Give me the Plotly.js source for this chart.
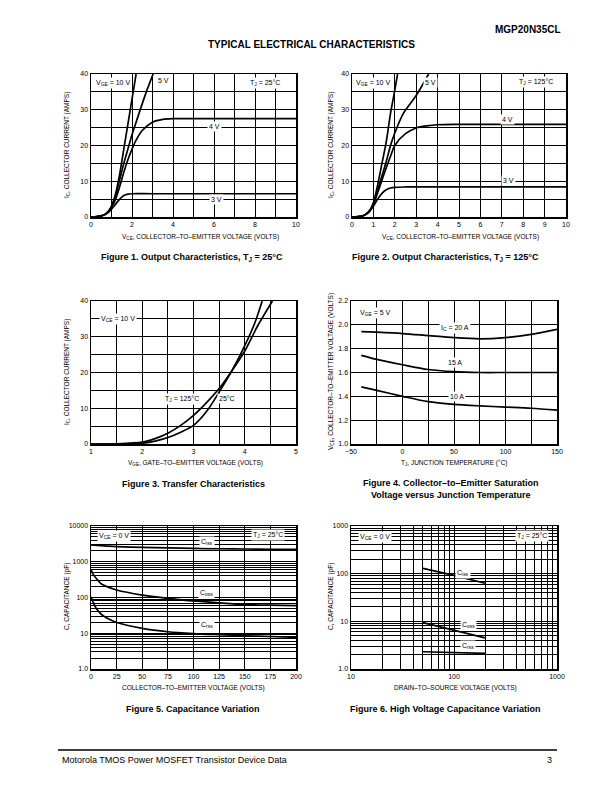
<!DOCTYPE html>
<html>
<head>
<meta charset="utf-8">
<script src="https://cdn.plot.ly/plotly-3.0.1.min.js"></script>
<style>html,body{margin:0;padding:0;background:#fff;}#chart{width:612px;height:792px;}</style>
</head>
<body>
<div id="chart"></div>
<script>
// ---------------- DATA ----------------
// Figure 1: Output characteristics, TJ = 25C (VCE volts, IC amps)
const f1_v10_x = [0,0.3,0.5,0.7,0.85,1.0,1.2,1.4,1.6,1.8,2.0,2.2];
const f1_v10_y = [0,0.1,0.3,0.8,1.6,3,6.5,12,19,26,33,40];
const f1_v5_x  = [0,0.3,0.5,0.7,0.85,1.0,1.2,1.4,1.6,1.8,2.0,2.2,2.4,2.7,3.03];
const f1_v5_y  = [0,0.1,0.3,0.8,1.6,3,6,10.5,15,19,23,26.5,30,35,40];
const f1_v4_x  = [0,0.3,0.5,0.7,0.85,1.0,1.2,1.4,1.6,1.8,2.0,2.2,2.5,3.0,3.5,4.0,5,10];
const f1_v4_y  = [0,0.1,0.3,0.8,1.5,2.7,5,8.5,12.5,16,19,21.5,24.2,26.5,27.3,27.5,27.5,27.5];
const f1_v3_x  = [0,0.3,0.5,0.7,0.85,1.0,1.2,1.4,1.6,1.8,2.0,3,10];
const f1_v3_y  = [0,0.1,0.3,0.7,1.3,2.2,3.6,5,6,6.4,6.5,6.5,6.5];

// Figure 2: Output characteristics, TJ = 125C
const f2_v10_x = [0,0.3,0.5,0.7,0.85,1.0,1.2,1.4,1.6,1.8,2.0,2.13];
const f2_v10_y = [0,0.1,0.3,1,2,4,9,15,21,29,35.5,40];
const f2_v5_x  = [0,0.3,0.5,0.7,0.85,1.0,1.2,1.4,1.6,1.8,2.0,2.4,3.0,3.58];
const f2_v5_y  = [0,0.1,0.3,1,2,3.8,7.5,11.5,15.5,20,23.5,29,34,40];
const f2_v4_x  = [0,0.3,0.5,0.7,0.85,1.0,1.2,1.4,1.6,1.8,2.0,2.5,3.0,3.5,4.0,5,10];
const f2_v4_y  = [0,0.1,0.3,1,1.9,3.5,6.8,10.3,13.8,17,20,23.3,24.9,25.5,25.8,25.9,25.9];
const f2_v3_x  = [0,0.3,0.5,0.7,0.85,1.0,1.2,1.4,1.6,1.8,2.0,2.5,10];
const f2_v3_y  = [0,0.1,0.3,0.9,1.8,3,5,6.6,7.6,8.1,8.3,8.4,8.4];

// Figure 3: Transfer characteristics (VGE volts, IC amps)
const f3_t125_x = [1,1.5,2,2.25,2.5,2.75,3,3.25,3.5,3.75,4,4.25,4.54];
const f3_t125_y = [0,0.05,0.5,1.5,3,5.2,8,11.5,15.5,20.5,26,33,40];
const f3_t25_x  = [1,1.5,2,2.25,2.5,2.75,3,3.25,3.5,3.75,4,4.2,4.34];
const f3_t25_y  = [0,0,0.2,0.8,1.8,3.3,5.2,9,14.5,20.5,27.5,34,40];

// Figure 4: VCE(sat) vs junction temperature
const f4_tj     = [-40,-25,0,25,50,75,100,125,150];
const f4_ic20   = [1.943,1.938,1.927,1.91,1.893,1.883,1.893,1.92,1.962];
const f4_ic15   = [1.744,1.71,1.665,1.625,1.607,1.6,1.6,1.6,1.6];
const f4_ic10   = [1.48,1.45,1.40,1.355,1.333,1.32,1.31,1.30,1.285];

// Figure 5: Capacitance variation
const f5_vce  = [0,2,5,10,15,25,50,75,100,125,150,175,200];
const f5_ciss = [2950,2920,2880,2800,2750,2650,2520,2430,2370,2310,2270,2240,2220];
const f5_coss = [600,450,345,240,205,162,117,95,80,71,64,61,59];
const f5_crss = [105,75,50,34,27,20,13.7,11,9.8,9.1,8.5,8.1,7.7];

// Figure 6: High voltage capacitance variation
const f6_vds  = [50,100,200];
const f6_ciss = [129,92,63];
const f6_coss = [9.4,6.5,4.5];
const f6_crss = [2.3,2.2,2.13];

// Tick labels
const f1_xlabels = [0,2,4,6,8,10];
const f2_xlabels = [0,1,2,3,4,5,6,7,8,9,10];
const ic_ylabels = [0,10,20,30,40];
const f3_xlabels = [1,2,3,4,5];
const f4_xlabels = [-50,0,50,100,150];
const f4_xtext   = ['−50','0','50','100','150'];
const f4_ylabels = [1.0,1.2,1.4,1.6,1.8,2.0,2.2];
const f4_ytext   = ['1.0','1.2','1.4','1.6','1.8','2.0','2.2'];
const f5_xlabels = [0,25,50,75,100,125,150,175,200];
const f5_ylabels = [1,10,100,1000,10000];
const f5_ytext   = ['1.0','10','100','1000','10000'];
const f6_xlabels = [10,100,1000];
const f6_xtext   = ['10','100','1000'];
const f6_ylabels = [1,10,100,1000];
const f6_ytext   = ['1.0','10','100','1000'];

// ---------------- HELPERS ----------------
const FONT = 'Liberation Sans, Arial, Helvetica, sans-serif';
const PX = v => v / 612;
const PY = v => 1 - v / 792;
const GRID = {showgrid: true, gridcolor: '#000', gridwidth: 1, ticks: ''};

function linTicks(min, step, labels, texts) {
  return {tickvals: labels, ticktext: texts || labels.map(String),
    minor: Object.assign({tickmode: 'linear', tick0: min, dtick: step}, GRID)};
}
function logTicks(labels, texts) {
  return {tickvals: labels, ticktext: texts,
    minor: Object.assign({dtick: 'D1'}, GRID)};
}
function axis(domain, range, ticks, anchor, type) {
  return Object.assign({
    domain: domain, range: range, type: type || 'linear', anchor: anchor,
    tickmode: 'array', showgrid: true, gridcolor: '#000', gridwidth: 1,
    showline: true, mirror: true, linecolor: '#000', linewidth: 1.5,
    zeroline: false, ticks: '', ticklen: 0,
    tickfont: {family: FONT, size: 7, color: '#000'}, fixedrange: true
  }, ticks);
}
function line(x, y, xa, ya, shape) {
  return {x: x, y: y, xaxis: xa, yaxis: ya, mode: 'lines', type: 'scatter',
    line: {color: '#000', width: 1.7, shape: shape || 'spline', smoothing: 0.8},
    hoverinfo: 'skip', showlegend: false};
}

// Domains (paper fractions)
const colL = [PX(91), PX(296)];
const colR2 = [PX(352), PX(566)];
const colR = [PX(351), PX(557)];
const row1 = [PY(217), PY(74)];
const row2 = [PY(444), PY(301)];
const row3 = [PY(669), PY(526)];

const traces = [
  line(f1_v10_x, f1_v10_y, 'x', 'y'),
  line(f1_v5_x, f1_v5_y, 'x', 'y'),
  line(f1_v4_x, f1_v4_y, 'x', 'y'),
  line(f1_v3_x, f1_v3_y, 'x', 'y'),
  line(f2_v10_x, f2_v10_y, 'x2', 'y2'),
  line(f2_v5_x, f2_v5_y, 'x2', 'y2'),
  line(f2_v4_x, f2_v4_y, 'x2', 'y2'),
  line(f2_v3_x, f2_v3_y, 'x2', 'y2'),
  line(f3_t125_x, f3_t125_y, 'x3', 'y3'),
  line(f3_t25_x, f3_t25_y, 'x3', 'y3'),
  line(f4_tj, f4_ic20, 'x4', 'y4'),
  line(f4_tj, f4_ic15, 'x4', 'y4'),
  line(f4_tj, f4_ic10, 'x4', 'y4'),
  line(f5_vce, f5_ciss, 'x5', 'y5'),
  line(f5_vce, f5_coss, 'x5', 'y5'),
  line(f5_vce, f5_crss, 'x5', 'y5'),
  line(f6_vds, f6_ciss, 'x6', 'y6', 'linear'),
  line(f6_vds, f6_coss, 'x6', 'y6', 'linear'),
  line(f6_vds, f6_crss, 'x6', 'y6', 'linear')
];

function lab(text, x, y, xref, yref, extra) {
  return Object.assign({text: text, x: x, y: y, xref: xref, yref: yref, showarrow: false,
    xanchor: 'center', yanchor: 'middle',
    bgcolor: '#fff', borderpad: 1, font: {family: FONT, size: 7, color: '#000'}}, extra || {});
}
function ptxt(text, x, y, size, extra) {
  return Object.assign({text: text, x: PX(x), y: PY(y), xref: 'paper', yref: 'paper', showarrow: false,
    xanchor: 'center', yanchor: 'middle',
    font: {family: FONT, size: size, color: '#000'}}, extra || {});
}

const annotations = [
  // Figure 1
  lab('V<sub>GE</sub> = 10 V', 1.05, 37.5, 'x', 'y'),
  lab('5 V', 3.55, 38.2, 'x', 'y'),
  lab('T<sub>J</sub> = 25°C', 8.5, 37.5, 'x', 'y'),
  lab('4 V', 6.0, 25.3, 'x', 'y'),
  lab('3 V', 6.1, 4.9, 'x', 'y'),
  // Figure 2
  lab('V<sub>GE</sub> = 10 V', 1.0, 37.5, 'x2', 'y2'),
  lab('5 V', 3.66, 37.6, 'x2', 'y2'),
  lab('T<sub>J</sub> = 125°C', 8.6, 37.8, 'x2', 'y2'),
  lab('4 V', 7.25, 27.4, 'x2', 'y2'),
  lab('3 V', 7.3, 10.3, 'x2', 'y2'),
  // Figure 3
  lab('V<sub>CE</sub> = 10 V', 1.52, 35, 'x3', 'y3'),
  lab('T<sub>J</sub> = 125°C', 2.77, 12.6, 'x3', 'y3'),
  lab('25°C', 3.66, 12.6, 'x3', 'y3'),
  // Figure 4
  lab('V<sub>GE</sub> = 5 V', -26, 2.1, 'x4', 'y4'),
  lab('I<sub>C</sub> = 20 A', 51, 1.975, 'x4', 'y4'),
  lab('15 A', 51, 1.68, 'x4', 'y4'),
  lab('10 A', 53, 1.395, 'x4', 'y4'),
  // Figure 5
  lab('V<sub>CE</sub> = 0 V', 22.5, 3.72, 'x5', 'y5'),
  lab('T<sub>J</sub> = 25°C', 173, 3.74, 'x5', 'y5'),
  lab('C<sub>iss</sub>', 113, 3.55, 'x5', 'y5'),
  lab('C<sub>oss</sub>', 113, 2.13, 'x5', 'y5'),
  lab('C<sub>rss</sub>', 113, 1.24, 'x5', 'y5'),
  // Figure 6
  lab('V<sub>CE</sub> = 0 V', 1.235, 2.77, 'x6', 'y6'),
  lab('T<sub>J</sub> = 25°C', 2.76, 2.79, 'x6', 'y6'),
  lab('C<sub>iss</sub>', 2.09, 2.01, 'x6', 'y6'),
  lab('C<sub>oss</sub>', 2.14, 0.93, 'x6', 'y6'),
  lab('C<sub>rss</sub>', 2.14, 0.49, 'x6', 'y6'),

  // Axis titles
  ptxt('V<sub>CE</sub>, COLLECTOR–TO–EMITTER VOLTAGE (VOLTS)', 200, 237, 6.5),
  ptxt('V<sub>CE</sub>, COLLECTOR–TO–EMITTER VOLTAGE (VOLTS)', 460, 237, 6.5),
  ptxt('V<sub>GE</sub>, GATE–TO–EMITTER VOLTAGE (VOLTS)', 196, 463, 6.5),
  ptxt('T<sub>J</sub>, JUNCTION TEMPERATURE (°C)', 454, 463, 6.5),
  ptxt('COLLECTOR–TO–EMITTER VOLTAGE (VOLTS)', 193, 688, 6.5),
  ptxt('DRAIN–TO–SOURCE VOLTAGE (VOLTS)', 455, 688, 6.5),
  ptxt('I<sub>C</sub>, COLLECTOR CURRENT (AMPS)', 67, 145, 6.5, {textangle: -90}),
  ptxt('I<sub>C</sub>, COLLECTOR CURRENT (AMPS)', 331, 145, 6.5, {textangle: -90}),
  ptxt('I<sub>C</sub>, COLLECTOR CURRENT (AMPS)', 67, 372, 6.5, {textangle: -90}),
  ptxt('V<sub>CE</sub>, COLLECTOR–TO–EMITTER VOLTAGE (VOLTS)', 331, 372, 6.5, {textangle: -90}),
  ptxt('C, CAPACITANCE (pF)', 67, 597, 6.5, {textangle: -90}),
  ptxt('C, CAPACITANCE (pF)', 331, 597, 6.5, {textangle: -90}),

  // Captions
  ptxt('<b>Figure 1. Output Characteristics, T<sub>J</sub> = 25°C</b>', 192, 257, 9),
  ptxt('<b>Figure 2. Output Characteristics, T<sub>J</sub> = 125°C</b>', 445, 257, 9),
  ptxt('<b>Figure 3. Transfer Characteristics</b>', 193, 484, 9),
  ptxt('<b>Figure 4. Collector–to–Emitter Saturation<br>Voltage versus Junction Temperature</b>', 451, 489, 9),
  ptxt('<b>Figure 5. Capacitance Variation</b>', 193, 709, 9),
  ptxt('<b>Figure 6. High Voltage Capacitance Variation</b>', 445, 709, 9),

  // Page texts
  ptxt('<b>TYPICAL ELECTRICAL CHARACTERISTICS</b>', 311, 44, 10),
  ptxt('<b>MGP20N35CL</b>', 563, 29, 10, {xanchor: 'right'}),
  ptxt('Motorola TMOS Power MOSFET Transistor Device Data', 60, 760, 9, {xanchor: 'left'}),
  ptxt('3', 554, 760, 9, {xanchor: 'right'})
];

const layout = {
  width: 612, height: 792, margin: {l: 0, r: 0, t: 0, b: 0},
  paper_bgcolor: '#fff', plot_bgcolor: '#fff', showlegend: false, hovermode: false,
  font: {family: FONT, color: '#000'},
  xaxis:  axis(colL, [0, 10], linTicks(0, 1, f1_xlabels), 'y'),
  yaxis:  axis(row1, [0, 40], linTicks(0, 5, ic_ylabels), 'x'),
  xaxis2: axis(colR2, [0, 10], linTicks(0, 1, f2_xlabels), 'y2'),
  yaxis2: axis(row1, [0, 40], linTicks(0, 5, ic_ylabels), 'x2'),
  xaxis3: axis(colL, [1, 5], linTicks(1, 0.5, f3_xlabels), 'y3'),
  yaxis3: axis(row2, [0, 40], linTicks(0, 5, ic_ylabels), 'x3'),
  xaxis4: axis(colR, [-50, 150], linTicks(-50, 25, f4_xlabels, f4_xtext), 'y4'),
  yaxis4: axis(row2, [1.0, 2.2], linTicks(1.0, 0.2, f4_ylabels, f4_ytext), 'x4'),
  xaxis5: axis(colL, [0, 200], linTicks(0, 25, f5_xlabels), 'y5'),
  yaxis5: axis(row3, [0, 4], logTicks(f5_ylabels, f5_ytext), 'x5', 'log'),
  xaxis6: axis(colR, [1, 3], logTicks(f6_xlabels, f6_xtext), 'y6', 'log'),
  yaxis6: axis(row3, [0, 3], logTicks(f6_ylabels, f6_ytext), 'x6', 'log'),
  annotations: annotations,
  shapes: [
    {type: 'line', xref: 'paper', yref: 'paper', x0: PX(58), x1: PX(557), y0: PY(750), y1: PY(750),
     line: {color: '#000', width: 1.5}}
  ]
};

Plotly.newPlot('chart', traces, layout, {staticPlot: true, displayModeBar: false});
</script>
</body>
</html>
